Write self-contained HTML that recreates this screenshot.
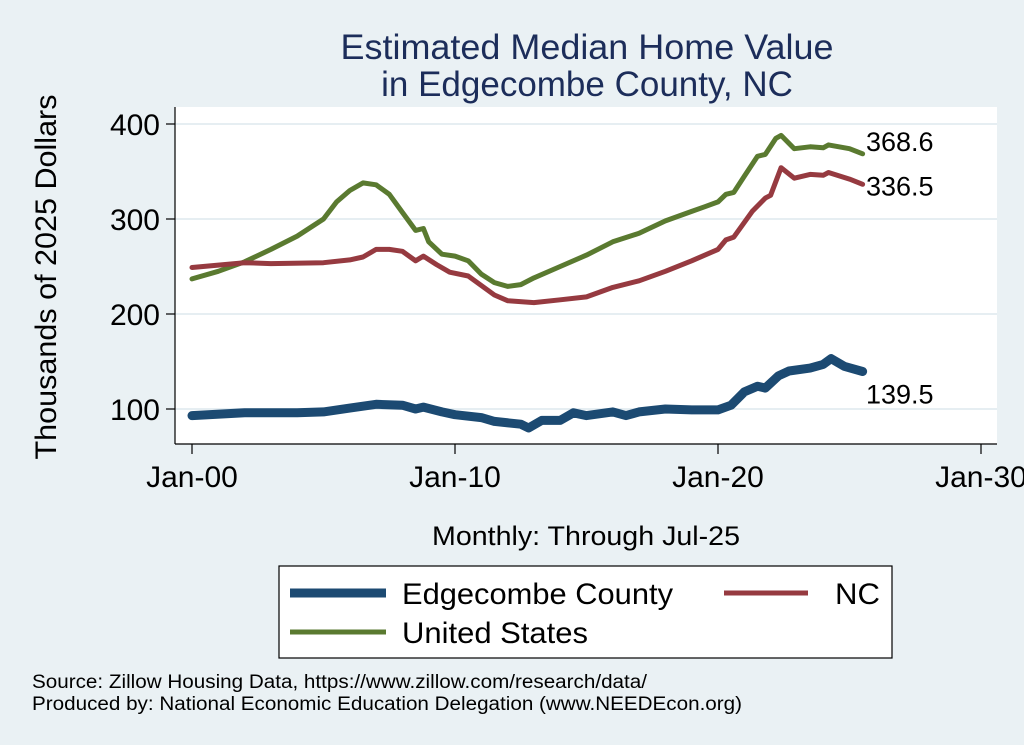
<!DOCTYPE html>
<html><head><meta charset="utf-8"><style>
body{margin:0;background:#eaf1f4;}
svg{display:block;font-family:"Liberation Sans",Arial,sans-serif;}
</style></head><body>
<svg width="1024" height="745" viewBox="0 0 1024 745">
<rect x="0" y="0" width="1024" height="745" fill="#eaf1f4"/>
<text x="587" y="59" font-size="35" fill="#1c2d5a" text-anchor="middle" textLength="493" lengthAdjust="spacingAndGlyphs">Estimated Median Home Value</text>
<text x="587" y="96" font-size="35" fill="#1c2d5a" text-anchor="middle">in Edgecombe County, NC</text>
<rect x="175" y="107" width="822" height="337" fill="#ffffff"/>
<g id="grid"></g>
<g id="series"></g>
<g id="axes"></g>
<text transform="translate(56,277) rotate(-90)" font-size="30" fill="#000" text-anchor="middle" textLength="365" lengthAdjust="spacingAndGlyphs">Thousands of 2025 Dollars</text>
<text x="586" y="545" font-size="27" fill="#000" text-anchor="middle" textLength="308" lengthAdjust="spacingAndGlyphs">Monthly: Through Jul-25</text>
<g>
<rect x="279" y="566" width="613" height="92" fill="#fff" stroke="#000" stroke-width="1.2"/>
<line x1="290" y1="593" x2="386" y2="593" stroke="#1c4a72" stroke-width="9"/>
<text x="402" y="604" font-size="30" fill="#000" textLength="271" lengthAdjust="spacingAndGlyphs">Edgecombe County</text>
<line x1="724" y1="593" x2="808" y2="593" stroke="#963a40" stroke-width="5"/>
<text x="835" y="604" font-size="30" fill="#000" textLength="45" lengthAdjust="spacingAndGlyphs">NC</text>
<line x1="290" y1="632" x2="386" y2="632" stroke="#5a7a30" stroke-width="5"/>
<text x="402" y="643" font-size="30" fill="#000" textLength="186" lengthAdjust="spacingAndGlyphs">United States</text>
</g>
<text x="32" y="688" font-size="19" fill="#000" textLength="615" lengthAdjust="spacingAndGlyphs">Source: Zillow Housing Data, https://www.zillow.com/research/data/</text>
<text x="32" y="710" font-size="19" fill="#000" textLength="710" lengthAdjust="spacingAndGlyphs">Produced by: National Economic Education Delegation (www.NEEDEcon.org)</text>
</svg>
<script>
const yTicks=[100,200,300,400];
const xTickYears=[2000,2010,2020,2030];
const xTickLabels=["Jan-00","Jan-10","Jan-20","Jan-30"];
const usYears=[2000,2001,2002,2003,2004,2005,2005.5,2006,2006.5,2007,2007.5,2008,2008.5,2008.8,2009,2009.5,2010,2010.5,2011,2011.5,2012,2012.5,2013,2014,2015,2016,2017,2018,2019,2019.5,2020,2020.3,2020.6,2021,2021.5,2021.8,2022.2,2022.4,2022.9,2023.5,2024,2024.2,2025,2025.5];
const usValues=[237,245,255,268,282,300,318,330,338,336,326,307,288,290,276,263,261,256,242,233,229,231,238,250,262,276,285,298,308,313,318,326,328,345,366,368,385,388,374,376,375,378,374,368.6];
const ncYears=[2000,2002,2003,2005,2006,2006.5,2007,2007.5,2008,2008.5,2008.8,2009.3,2009.8,2010.5,2011,2011.5,2012,2013,2014,2015,2016,2017,2018,2019,2020,2020.3,2020.6,2021.3,2021.8,2022,2022.4,2022.9,2023.5,2024,2024.2,2025,2025.5];
const ncValues=[249,254,253,254,257,260,268,268,266,256,261,252,244,240,230,220,214,212,215,218,228,235,245,256,268,278,281,308,322,325,354,343,347,346,349,342,336.5];
const edYears=[2000,2002,2004,2005,2006,2007,2008,2008.5,2008.8,2009.5,2010,2011,2011.5,2012.5,2012.8,2013.3,2014,2014.5,2015,2016,2016.5,2017,2018,2019,2020,2020.5,2021,2021.5,2021.8,2022.3,2022.7,2023.5,2024,2024.3,2024.8,2025.5];
const edValues=[93,96,96,97,101,105,104,100,102,97,94,91,87,84,80,88,88,96,93,97,93,97,100,99,99,104,118,124,122,135,140,143,147,153,145,139.5];
const endLabels=["368.6","336.5","139.5"];
const NS="http://www.w3.org/2000/svg";
function xs(yr){return 192+(yr-2000)*26.3;}
function ys(v){return 409-(v-100)*0.95;}
function mk(tag,attrs,parent){const e=document.createElementNS(NS,tag);for(const k in attrs)e.setAttribute(k,attrs[k]);parent.appendChild(e);return e;}
const grid=document.getElementById('grid'),axes=document.getElementById('axes'),series=document.getElementById('series');
yTicks.forEach(t=>{
 const g=mk('line',{x1:175,x2:997,y1:ys(t),y2:ys(t),stroke:'#e6eef2','stroke-width':2},grid);
 
 
 const tk=mk('line',{x1:166,x2:175,y1:ys(t),y2:ys(t),stroke:'#000','stroke-width':1.2},axes);
 
 
 const tx=mk('text',{x:160,y:ys(t)+11,'font-size':30,'text-anchor':'end',fill:'#000'},axes);
 tx.textContent=t;
 
 
});
const ya=mk('line',{x1:175,x2:175,y1:107,y2:444,stroke:'#000','stroke-width':1.2},axes);


const xa=mk('line',{x1:175,x2:997,y1:444,y2:444,stroke:'#000','stroke-width':1.2},axes);


xTickYears.forEach((yr,i)=>{
 const tk=mk('line',{x1:xs(yr),x2:xs(yr),y1:444,y2:454,stroke:'#000','stroke-width':1.2},axes);
 
 
 const tx=mk('text',{x:xs(yr),y:487,'font-size':30,'text-anchor':'middle',fill:'#000'},axes);
 tx.textContent=xTickLabels[i];
 
 
});
function drawLine(years,vals,color,w,name){
 const d=years.map((y,i)=>(i?'L':'M')+xs(y).toFixed(1)+' '+ys(vals[i]).toFixed(1)).join(' ');
 const p=mk('path',{d:d,fill:'none',stroke:color,'stroke-width':w,'stroke-linejoin':'round','stroke-linecap':'round'},series);
 
 
}
drawLine(usYears,usValues,'#5a7a30',5,'line-united-states');
drawLine(ncYears,ncValues,'#963a40',5,'line-nc');
drawLine(edYears,edValues,'#1c4a72',9,'line-edgecombe');
const lastUS=usValues[usValues.length-1],lastNC=ncValues[ncValues.length-1],lastED=edValues[edValues.length-1];
const l1=mk('text',{x:866,y:ys(lastUS)-3,'font-size':27,fill:'#000'},series);
l1.textContent=endLabels[0];


const l2=mk('text',{x:866,y:ys(lastNC)+11,'font-size':27,fill:'#000'},series);
l2.textContent=endLabels[1];


const l3=mk('text',{x:866,y:ys(lastED)+32,'font-size':27,fill:'#000'},series);
l3.textContent=endLabels[2];


</script>
</body></html>
